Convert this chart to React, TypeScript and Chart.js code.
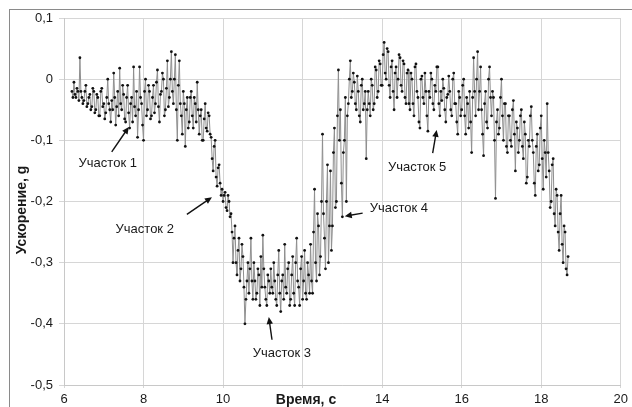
import React, { useEffect, useRef } from 'react';
import { Chart, registerables } from 'chart.js';

Chart.register(...registerables);

// sampling of the record
const startTime = 6.2;
const timeStep = 0.025;

// acceleration, g
const accel = [
  -0.02, -0.03, -0.005, -0.025, -0.03, -0.015, -0.02, -0.035, 0.035, -0.02, -0.03, -0.04, -0.035, -0.02, -0.01, -0.045, -0.04, -0.03, -0.025, -0.05,
  -0.045, -0.015, -0.02, -0.055, -0.05, -0.025, -0.03, -0.06, -0.06, -0.02, -0.015, -0.045, -0.04, -0.065, -0.055, -0.03, 0.0, -0.04, -0.05, -0.07,
  -0.035, -0.05, 0.01, -0.03, -0.075, -0.045, -0.02, -0.06, 0.018, -0.04, -0.05, -0.01, -0.025, -0.065, -0.07, -0.03, -0.01, -0.055, -0.08, -0.04,
  -0.03, -0.07, 0.02, -0.045, -0.06, -0.02, -0.095, -0.05, 0.02, -0.03, -0.04, -0.075, -0.1, -0.02, 0.0, -0.06, -0.05, -0.01, -0.02, -0.065,
  -0.06, -0.03, -0.01, -0.055, -0.04, -0.005, 0.015, -0.045, -0.07, -0.025, -0.02, 0.01, 0.0, -0.06, -0.05, -0.015, 0.03, -0.045, -0.03, 0.0,
  0.045, -0.02, -0.04, 0.0, 0.04, -0.05, -0.1, -0.01, 0.03, -0.04, -0.06, -0.09, -0.02, -0.04, -0.11, -0.05, -0.03, -0.08, -0.07, -0.03,
  -0.02, -0.06, -0.08, -0.03, -0.04, -0.07, -0.005, -0.05, -0.09, -0.06, -0.05, -0.1, -0.1, -0.065, -0.04, -0.08, -0.085, -0.055, -0.06, -0.09,
  -0.095, -0.13, -0.15, -0.11, -0.1, -0.16, -0.175, -0.145, -0.14, -0.17, -0.19, -0.18, -0.2, -0.19, -0.185, -0.21, -0.215, -0.19, -0.2, -0.225,
  -0.22, -0.25, -0.3, -0.26, -0.24, -0.3, -0.32, -0.28, -0.26, -0.33, -0.31, -0.27, -0.29, -0.34, -0.4, -0.36, -0.33, -0.3, -0.35, -0.31,
  -0.26, -0.33, -0.36, -0.3, -0.33, -0.36, -0.35, -0.31, -0.32, -0.37, -0.29, -0.34, -0.255, -0.31, -0.34, -0.36, -0.37, -0.32, -0.33, -0.35,
  -0.31, -0.34, -0.35, -0.3, -0.33, -0.36, -0.37, -0.32, -0.28, -0.35, -0.38, -0.33, -0.32, -0.36, -0.27, -0.34, -0.35, -0.31, -0.3, -0.37,
  -0.36, -0.32, -0.29, -0.35, -0.37, -0.3, -0.26, -0.33, -0.34, -0.37, -0.31, -0.29, -0.36, -0.33, -0.28, -0.35, -0.36, -0.3, -0.32, -0.35,
  -0.27, -0.33, -0.35, -0.25, -0.18, -0.3, -0.33, -0.22, -0.24, -0.32, -0.29, -0.2, -0.09, -0.22, -0.26, -0.31, -0.2, -0.14, -0.3, -0.24,
  -0.15, -0.28, -0.24, -0.12, -0.08, -0.21, -0.2, -0.06, 0.015, -0.1, -0.05, -0.17, -0.225, -0.12, -0.1, -0.03, -0.2, -0.06, -0.04, 0.0,
  0.03, -0.03, -0.02, 0.01, -0.005, -0.04, -0.05, 0.005, -0.02, -0.06, -0.07, -0.01, 0.0, -0.05, -0.04, -0.02, -0.13, -0.05, -0.02, -0.04,
  -0.06, 0.0, -0.01, -0.05, -0.04, 0.02, 0.015, -0.03, -0.02, 0.03, 0.025, -0.01, -0.01, 0.04, 0.06, 0.01, 0.0, 0.05, 0.045, -0.01,
  -0.03, 0.02, 0.03, -0.02, -0.05, 0.01, 0.02, -0.03, 0.0, 0.04, 0.035, -0.01, -0.02, 0.03, 0.025, -0.03, -0.04, 0.01, 0.015, -0.04,
  -0.05, 0.01, 0.0, -0.04, -0.06, 0.02, 0.025, -0.02, -0.03, -0.07, -0.08, 0.0, 0.005, -0.03, -0.04, 0.01, -0.02, -0.06, -0.085, -0.02,
  -0.03, 0.01, 0.0, -0.04, -0.05, -0.01, -0.02, 0.02, 0.02, -0.04, -0.06, -0.02, -0.035, 0.0, -0.015, -0.05, -0.07, -0.03, -0.025, 0.005,
  -0.02, -0.05, -0.06, 0.0, 0.01, -0.04, -0.04, -0.07, -0.09, -0.02, -0.03, -0.06, -0.05, -0.01, 0.0, -0.06, -0.09, -0.03, -0.04, -0.08,
  -0.02, -0.07, -0.12, -0.03, 0.035, -0.02, -0.06, 0.0, 0.045, -0.05, -0.02, 0.02, -0.05, -0.09, -0.125, -0.04, -0.02, -0.07, -0.08, 0.0,
  0.02, -0.03, -0.06, -0.02, -0.03, -0.1, -0.195, -0.07, -0.05, -0.09, -0.08, -0.03, 0.0, -0.06, -0.1, -0.04, -0.04, -0.11, -0.12, -0.06,
  -0.06, -0.1, -0.11, -0.05, -0.035, -0.09, -0.15, -0.07, -0.08, -0.12, -0.1, -0.06, -0.05, -0.11, -0.13, -0.07, -0.09, -0.17, -0.16, -0.1,
  -0.11, -0.06, -0.045, -0.1, -0.12, -0.17, -0.19, -0.11, -0.09, -0.15, -0.14, -0.08, -0.06, -0.13, -0.18, -0.1, -0.12, -0.16, -0.04, -0.12,
  -0.15, -0.21, -0.2, -0.14, -0.13, -0.22, -0.24, -0.18, -0.19, -0.25, -0.28, -0.22, -0.19, -0.27, -0.3, -0.24, -0.25, -0.31, -0.32, -0.29,
];

const xTicks = [6, 8, 10, 12, 14, 16, 18, 20];
const xTickLabels = ['6', '8', '10', '', '14', '16', '18', '20'];
const yTicks = [-0.5, -0.4, -0.3, -0.2, -0.1, 0, 0.1];

const xTitle = 'Время, с';
const yTitle = 'Ускорение, g';

// annotations in data coordinates: text centre, arrow tail, arrow tip
const noteTexts = ['Участок 1', 'Участок 2', 'Участок 3', 'Участок 4', 'Участок 5'];
const noteTextX = [7.1, 8.03, 11.48, 14.42, 14.88];
const noteTextY = [-0.137, -0.245, -0.449, -0.212, -0.1445];
const arrowFromX = [7.2, 9.09, 11.23, 13.51, 15.27];
const arrowFromY = [-0.119, -0.221, -0.426, -0.219, -0.121];
const arrowToX = [7.63, 9.72, 11.15, 13.06, 15.37];
const arrowToY = [-0.078, -0.193, -0.389, -0.224, -0.083];

const fmt = (v: number) => (Math.abs(v) < 1e-9 ? '0' : v.toFixed(1).replace('.', ','));

const FONT = '"Liberation Sans", Arial, sans-serif';

const overlayPlugin = {
  id: 'overlay',
  beforeDraw(chart: any) {
    const ctx = chart.ctx;
    ctx.save();
    ctx.fillStyle = '#ffffff';
    ctx.fillRect(0, 0, chart.width, chart.height);
    ctx.strokeStyle = '#8a8a8a';
    ctx.lineWidth = 1;
    ctx.strokeRect(9.5, 9.5, chart.width + 20, chart.height + 20);
    ctx.restore();
  },
  afterDraw(chart: any) {
    const ctx = chart.ctx;
    const xs = chart.scales.x;
    const ys = chart.scales.y;
    ctx.save();
    ctx.fillStyle = '#1a1a1a';
    ctx.font = `bold 14px ${FONT}`;
    ctx.textAlign = 'center';
    ctx.textBaseline = 'middle';
    ctx.fillText(xTitle, 306, 400);
    ctx.save();
    ctx.translate(22, 210);
    ctx.rotate(-Math.PI / 2);
    ctx.fillText(yTitle, 0, 0);
    ctx.restore();

    ctx.font = `13px ${FONT}`;
    for (let i = 0; i < noteTexts.length; i++) {
      const tx = xs.getPixelForValue(noteTextX[i]);
      const ty = ys.getPixelForValue(noteTextY[i]);
      ctx.fillStyle = '#1a1a1a';
      ctx.fillText(noteTexts[i], tx, ty);
      const x0 = xs.getPixelForValue(arrowFromX[i]);
      const y0 = ys.getPixelForValue(arrowFromY[i]);
      const x1 = xs.getPixelForValue(arrowToX[i]);
      const y1 = ys.getPixelForValue(arrowToY[i]);
      const ang = Math.atan2(y1 - y0, x1 - x0);
      const hl = 7;
      const hw = 3.2;
      ctx.strokeStyle = '#111';
      ctx.lineWidth = 1.4;
      ctx.beginPath();
      ctx.moveTo(x0, y0);
      ctx.lineTo(x1 - Math.cos(ang) * hl * 0.8, y1 - Math.sin(ang) * hl * 0.8);
      ctx.stroke();
      ctx.beginPath();
      ctx.moveTo(x1, y1);
      ctx.lineTo(
        x1 - Math.cos(ang) * hl - Math.sin(ang) * hw,
        y1 - Math.sin(ang) * hl + Math.cos(ang) * hw
      );
      ctx.lineTo(
        x1 - Math.cos(ang) * hl + Math.sin(ang) * hw,
        y1 - Math.sin(ang) * hl - Math.cos(ang) * hw
      );
      ctx.closePath();
      ctx.fillStyle = '#111';
      ctx.fill();
    }
    ctx.restore();
  },
};

export default function App() {
  const ref = useRef<HTMLCanvasElement | null>(null);

  useEffect(() => {
    if (!ref.current) return;
    const points = accel.map((v, i) => ({
      x: Math.round((startTime + i * timeStep) * 1000) / 1000,
      y: v,
    }));
    const chart = new Chart(ref.current, {
      type: 'line',
      data: {
        datasets: [
          {
            data: points,
            borderColor: '#8f8f8f',
            borderWidth: 1,
            pointRadius: 1.4,
            pointBackgroundColor: '#111',
            pointBorderColor: '#111',
            pointBorderWidth: 0,
            tension: 0,
          },
        ],
      },
      options: {
        responsive: false,
        animation: false,
        devicePixelRatio: 1,
        layout: { padding: { left: 0, top: 18, right: 11, bottom: 0 } },
        plugins: {
          legend: { display: false },
          tooltip: { enabled: false },
        },
        scales: {
          x: {
            type: 'linear',
            min: 6,
            max: 20,
            afterBuildTicks: (s: any) => {
              s.ticks = xTicks.map((v) => ({ value: v }));
            },
            afterFit: (s: any) => {
              s.height = 22;
            },
            grid: { color: '#d6d6d6', lineWidth: 1, tickLength: 3 },
            border: { color: '#c8c8c8' },
            ticks: {
              color: '#1a1a1a',
              font: { family: FONT, size: 13 },
              padding: 4,
              maxRotation: 0,
              autoSkip: false,
              callback: (v: any) => {
                const k = xTicks.indexOf(Number(v));
                return k >= 0 ? xTickLabels[k] : '';
              },
            },
          },
          y: {
            type: 'linear',
            min: -0.5,
            max: 0.1,
            afterBuildTicks: (s: any) => {
              s.ticks = yTicks.map((v) => ({ value: v }));
            },
            afterFit: (s: any) => {
              s.width = 64;
            },
            grid: { color: '#d6d6d6', lineWidth: 1, tickLength: 5 },
            border: { color: '#c8c8c8' },
            ticks: {
              color: '#1a1a1a',
              font: { family: FONT, size: 13 },
              padding: 6,
              autoSkip: false,
              callback: (v: any) => fmt(Number(v)),
            },
          },
        },
      },
      plugins: [overlayPlugin],
    } as any);
    return () => chart.destroy();
  }, []);

  return (
    <div
      style={{
        position: 'fixed',
        left: 0,
        top: 0,
        width: 632,
        height: 407,
        background: '#fff',
      }}
    >
      <canvas ref={ref} width={632} height={407} style={{ display: 'block' }} />
    </div>
  );
}
